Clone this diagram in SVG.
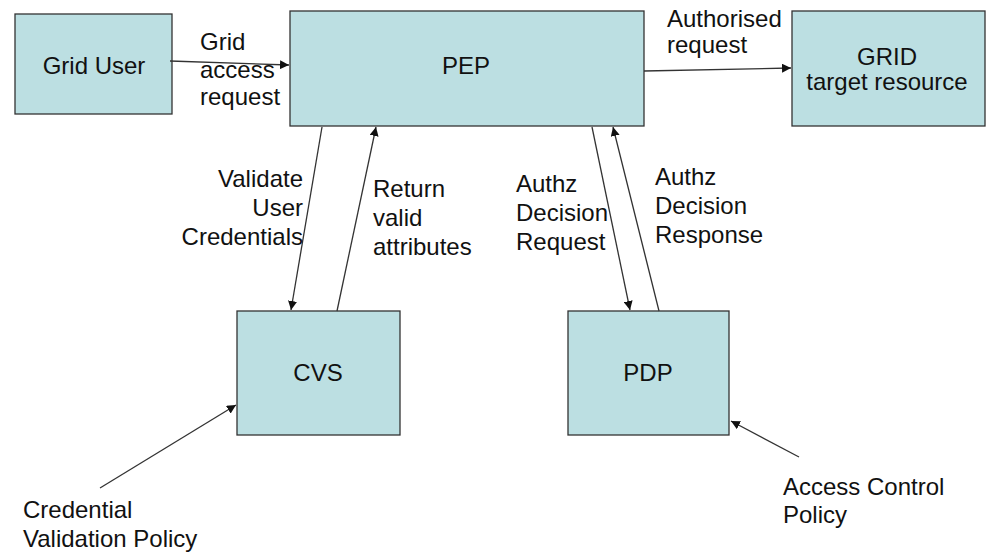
<svg xmlns="http://www.w3.org/2000/svg" width="990" height="552" viewBox="0 0 990 552">
<defs>
<marker id="ah" viewBox="0 0 10 10" refX="10" refY="5" markerWidth="9" markerHeight="9" markerUnits="userSpaceOnUse" orient="auto">
<path d="M0,0 L10,5 L0,10 z" fill="#111"/>
</marker>
<style>
.box{fill:#bcdfe2;stroke:#333;stroke-width:1.3}
.t{font-family:"Liberation Sans",Arial,sans-serif;font-size:24px;fill:#111}
.c{text-anchor:middle}
.r{text-anchor:end}
.ln{stroke:#333;stroke-width:1.3;fill:none;marker-end:url(#ah)}
</style>
</defs>
<rect width="990" height="552" fill="#fff"/>
<g id="grid-user"><rect class="box" x="15" y="14" width="157" height="100"/><text class="t c" x="94" y="74">Grid User</text></g>
<g id="pep"><rect class="box" x="290" y="11" width="354" height="115"/><text class="t c" x="466" y="74">PEP</text></g>
<g id="grid-target"><rect class="box" x="792" y="11" width="193" height="115"/><text class="t c" x="887" y="65">GRID</text><text class="t c" x="887" y="90">target resource</text></g>
<g id="cvs"><rect class="box" x="237" y="311" width="163" height="124"/><text class="t c" x="318" y="381">CVS</text></g>
<g id="pdp"><rect class="box" x="568" y="311" width="161" height="124"/><text class="t c" x="648" y="381">PDP</text></g>
<g id="connectors">
<line class="ln" x1="170" y1="61" x2="289" y2="65"/>
<line class="ln" x1="644" y1="71" x2="791" y2="68"/>
<line class="ln" x1="322" y1="127" x2="291" y2="310"/>
<line class="ln" x1="337" y1="311" x2="376" y2="127"/>
<line class="ln" x1="592" y1="127" x2="630" y2="310"/>
<line class="ln" x1="659" y1="311" x2="613" y2="127"/>
<line class="ln" x1="100" y1="488" x2="236" y2="405"/>
<line class="ln" x1="799" y1="457" x2="731" y2="421"/>
</g>
<g id="labels">
<text class="t" x="200" y="50">Grid</text>
<text class="t" x="200" y="78">access</text>
<text class="t" x="200" y="105">request</text>
<text class="t" x="667" y="27">Authorised</text>
<text class="t" x="667" y="53">request</text>
<text class="t r" x="303" y="187">Validate</text>
<text class="t r" x="303" y="216">User</text>
<text class="t r" x="303" y="245">Credentials</text>
<text class="t" x="373" y="197">Return</text>
<text class="t" x="373" y="226">valid</text>
<text class="t" x="373" y="255">attributes</text>
<text class="t" x="516" y="192">Authz</text>
<text class="t" x="516" y="221">Decision</text>
<text class="t" x="516" y="250">Request</text>
<text class="t" x="655" y="185">Authz</text>
<text class="t" x="655" y="214">Decision</text>
<text class="t" x="655" y="243">Response</text>
<text class="t" x="23" y="518">Credential</text>
<text class="t" x="23" y="547">Validation Policy</text>
<text class="t" x="783" y="495">Access Control</text>
<text class="t" x="783" y="523">Policy</text>
</g>
</svg>
